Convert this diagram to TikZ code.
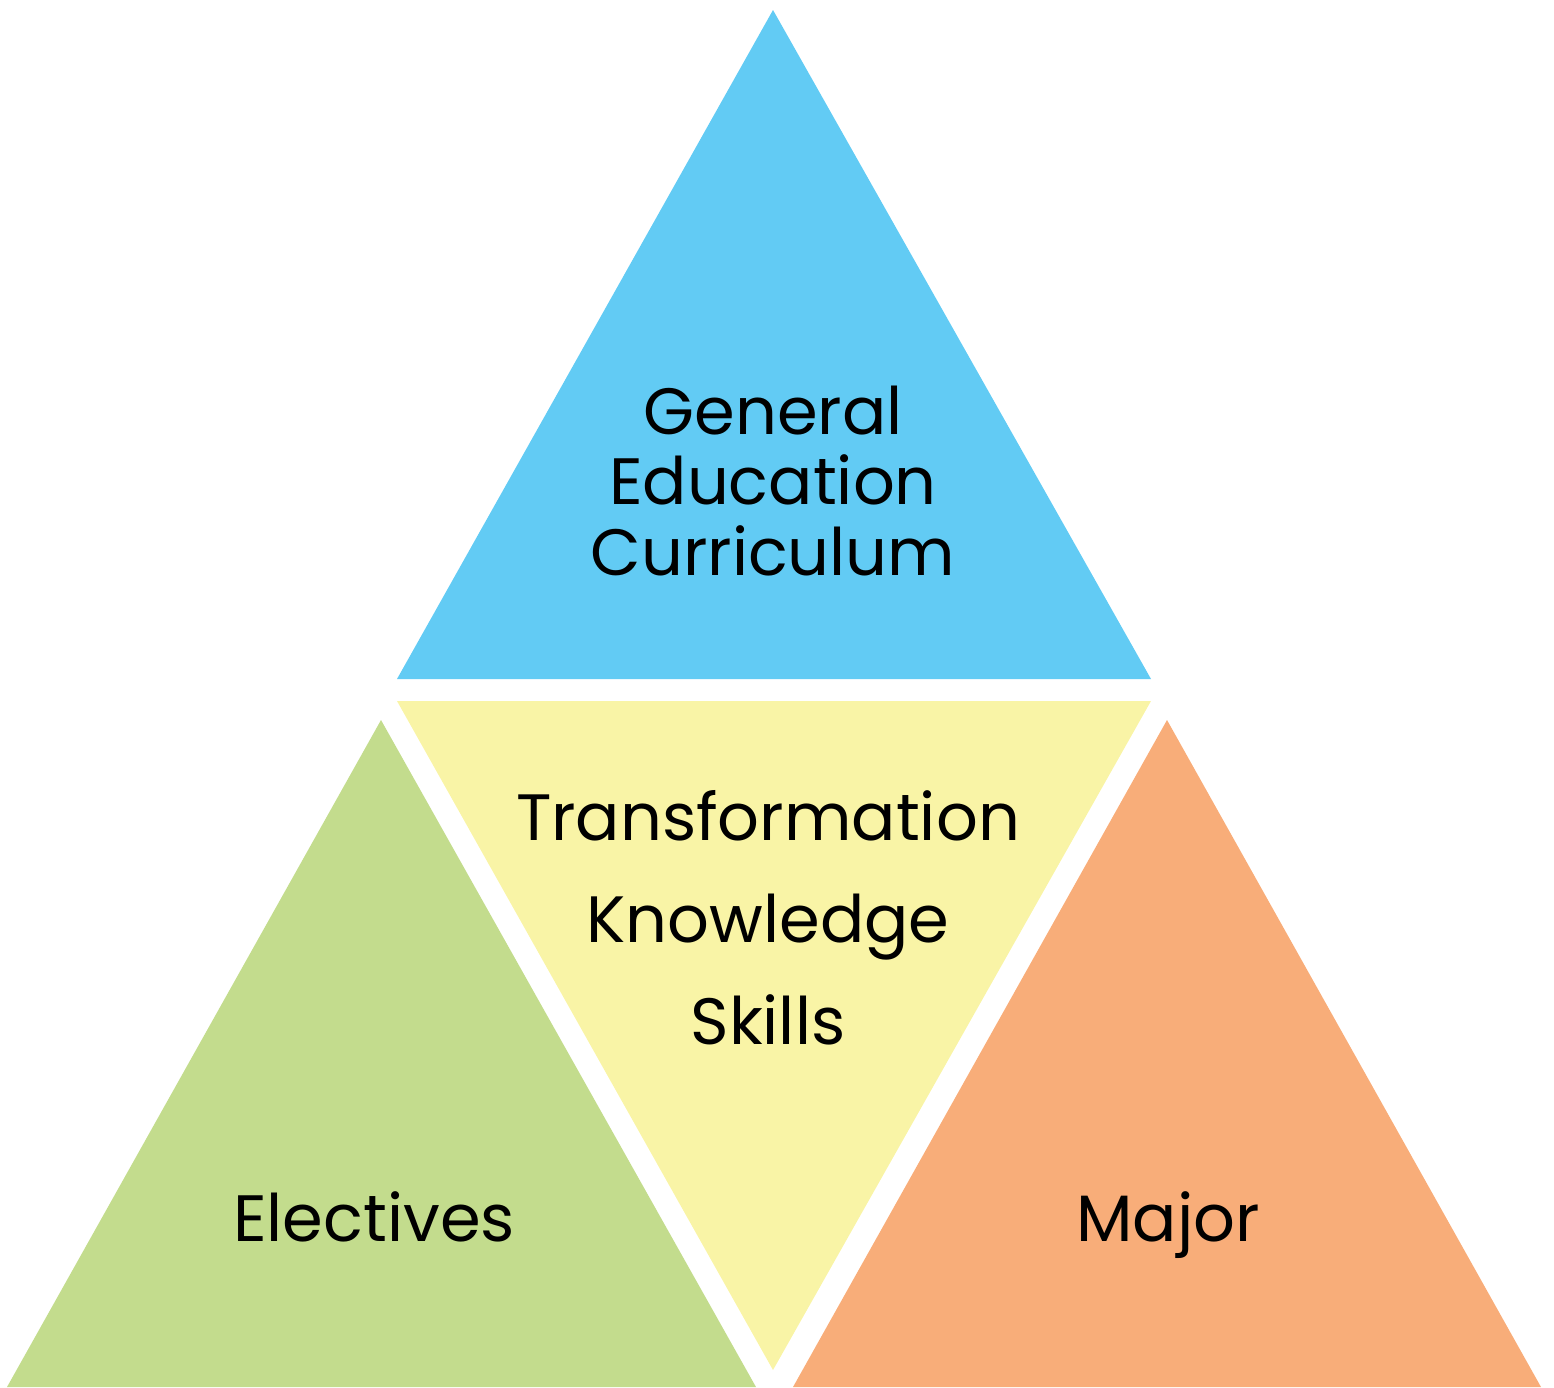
\documentclass[tikz,border=0pt]{standalone}
\usepackage{fontspec}
\setmainfont{Poppins}
\definecolor{geblue}{HTML}{62CBF4}
\definecolor{coreyellow}{HTML}{F9F4A6}
\definecolor{elecgreen}{HTML}{C3DC8D}
\definecolor{majororange}{HTML}{F8AD79}
\begin{document}
\begin{tikzpicture}[x=0.02cm, y=-0.02cm,
    label/.style={inner sep=0pt, align=center, font=\fontsize{37.3}{40}\selectfont}]
        \useasboundingbox (0,0) rectangle (1554,1387);
        % Triangles:
        \fill[geblue] (773,10) -- (1151,679) -- (397,679) -- cycle;
        \fill[coreyellow] (397,701) -- (1151,701) -- (773,1370) -- cycle;
        \fill[elecgreen] (381,720) -- (756,1387) -- (7,1387) -- cycle;
        \fill[majororange] (1167,720) -- (1541,1387) -- (793,1387) -- cycle;

        % Labels:
        \node[label] (gened) at (773,481) {General\\Education\\Curriculum};
        \node[label, font=\fontsize{37.3}{58}\selectfont] (core) at (768,918) {Transformation\\Knowledge\\Skills};
        \node[label, anchor=base] (electives) at (374,1241) {Electives};
        \node[label, anchor=base] (major) at (1168,1241) {Major};
\end{tikzpicture}
\end{document}
